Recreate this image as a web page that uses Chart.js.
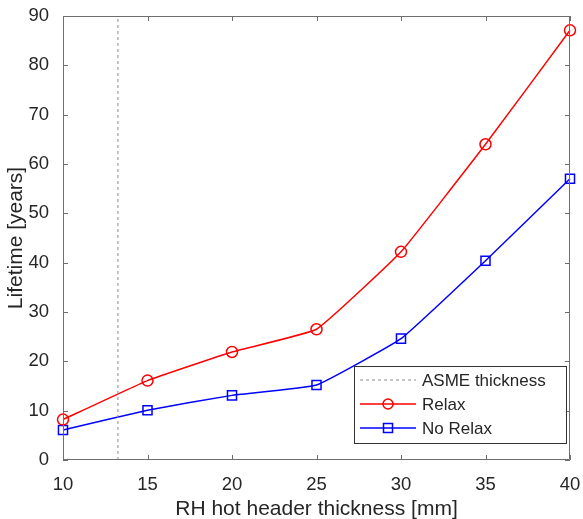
<!DOCTYPE html>
<html>
<head>
<meta charset="utf-8">
<script src="https://cdn.jsdelivr.net/npm/chart.js@4/dist/chart.umd.min.js"></script>
<style>
  html, body { margin: 0; padding: 0; background: #fff; }
  #wrap { width: 583px; height: 519px; }
</style>
</head>
<body>
<div id="wrap"><canvas id="lifeChart" width="583" height="519"></canvas></div>
<script>
// thickness [mm]
var thickness = [10, 15, 20, 25, 30, 35, 40];
var relax = [8.2, 16.1, 21.9, 26.5, 42.2, 64.0, 87.1];
var noRelax = [6.1, 10.1, 13.1, 15.2, 24.6, 40.4, 57.0];
var asmeThickness = 13.25;
var xTicks = [10, 15, 20, 25, 30, 35, 40];
var yTicks = [0, 10, 20, 30, 40, 50, 60, 70, 80, 90];

var axisColor = '#6e6e6e';
var textColor = '#262626';
var fontFam = '"Liberation Sans", Arial, Helvetica, sans-serif';

function pts(xs, ys) {
    return xs.map(function (x, i) { return {x: x, y: ys[i]}; });
}

// box + inward ticks on all four sides, like matlab
var boxPlugin = {
    id: 'box',
    afterDatasetsDraw: function (chart) {
        var ctx = chart.ctx, a = chart.chartArea;
        var xs = chart.scales.x, ys = chart.scales.y;
        ctx.save();
        ctx.strokeStyle = axisColor;
        ctx.lineWidth = 1;
        ctx.beginPath();
        ctx.rect(a.left + 0.5, a.top + 0.5, a.right - a.left - 1, a.bottom - a.top - 1);
        xTicks.forEach(function (v) {
            var px = Math.round(xs.getPixelForValue(v)) + 0.5;
            ctx.moveTo(px, a.bottom); ctx.lineTo(px, a.bottom - 5);
            ctx.moveTo(px, a.top); ctx.lineTo(px, a.top + 5);
        });
        yTicks.forEach(function (v) {
            var py = Math.round(ys.getPixelForValue(v)) + 0.5;
            ctx.moveTo(a.left, py); ctx.lineTo(a.left + 5, py);
            ctx.moveTo(a.right, py); ctx.lineTo(a.right - 5, py);
        });
        ctx.stroke();
        ctx.restore();
    }
};

// legend box inside the plot, lower right
var legendPlugin = {
    id: 'boxLegend',
    afterDraw: function (chart) {
        var ctx = chart.ctx, a = chart.chartArea;
        var w = 212, h = 77;
        var x0 = a.right - 4 - w, y0 = a.bottom - 17 - h;
        ctx.save();
        ctx.fillStyle = '#fff';
        ctx.fillRect(x0, y0, w, h);
        ctx.strokeStyle = '#333';
        ctx.lineWidth = 1;
        ctx.strokeRect(x0 + 0.5, y0 + 0.5, w, h);
        ctx.font = '17px ' + fontFam;
        ctx.textBaseline = 'middle';
        chart.data.datasets.forEach(function (ds, i) {
            var cy = y0 + 14 + i * 24;
            var lx1 = x0 + 6, lx2 = x0 + 62;
            ctx.strokeStyle = ds.borderColor;
            ctx.lineWidth = ds.borderWidth;
            ctx.setLineDash(ds.borderDash || []);
            ctx.beginPath();
            ctx.moveTo(lx1, cy); ctx.lineTo(lx2, cy);
            ctx.stroke();
            ctx.setLineDash([]);
            if (ds.pointRadius > 0) {
                ctx.lineWidth = 1.5;
                ctx.beginPath();
                var mx = (lx1 + lx2) / 2;
                if (ds.pointStyle === 'circle') {
                    ctx.arc(mx, cy, 5, 0, Math.PI * 2);
                } else {
                    ctx.rect(mx - 4.5, cy - 4.5, 9, 9);
                }
                ctx.stroke();
            }
            ctx.fillStyle = textColor;
            ctx.fillText(ds.label, x0 + 68, cy + 1);
        });
        ctx.restore();
    }
};

var ctx = document.getElementById('lifeChart').getContext('2d');
var myChart = new Chart(ctx, {
    type: 'line',
    data: {
        datasets: [{
            label: 'ASME thickness',
            data: [{x: asmeThickness, y: 0}, {x: asmeThickness, y: 90}],
            borderColor: '#8c8c8c',
            borderWidth: 1,
            borderDash: [3, 3],
            pointRadius: 0
        }, {
            label: 'Relax',
            data: pts(thickness, relax),
            borderColor: '#ff0000',
            borderWidth: 1.5,
            pointStyle: 'circle',
            pointRadius: 5.5,
            pointBorderWidth: 1.5,
            pointBorderColor: '#ff0000',
            pointBackgroundColor: 'rgba(0,0,0,0)',
            tension: 0.1,
            clip: false
        }, {
            label: 'No Relax',
            data: pts(thickness, noRelax),
            borderColor: '#0000ff',
            borderWidth: 1.5,
            pointStyle: 'rect',
            pointRadius: 6.4,
            pointBorderWidth: 1.5,
            pointBorderColor: '#0000ff',
            pointBackgroundColor: 'rgba(0,0,0,0)',
            tension: 0.1,
            clip: false
        }]
    },
    options: {
        responsive: false,
        animation: false,
        layout: { padding: { left: 0, right: 13, top: 16, bottom: 0 } },
        plugins: {
            legend: { display: false },
            tooltip: { enabled: false }
        },
        scales: {
            x: {
                type: 'linear',
                min: 10, max: 40,
                afterBuildTicks: function (s) { s.ticks = xTicks.map(function (v) { return {value: v}; }); },
                afterFit: function (s) { s.height = 59; s.paddingRight = 0; s.paddingLeft = 0; },
                grid: { display: false },
                border: { display: false },
                ticks: { color: textColor, font: { family: fontFam, size: 18.5 }, padding: 6, maxRotation: 0 },
                title: { display: true, text: 'RH hot header thickness [mm]', color: textColor, font: { family: fontFam, size: 21 }, padding: { top: 1, bottom: -3 } }
            },
            y: {
                type: 'linear',
                min: 0, max: 90,
                afterBuildTicks: function (s) { s.ticks = yTicks.map(function (v) { return {value: v}; }); },
                afterFit: function (s) { s.width = 63; s.paddingTop = 0; s.paddingBottom = 0; },
                grid: { display: false },
                border: { display: false },
                ticks: { color: textColor, font: { family: fontFam, size: 18.5 }, padding: 6 },
                title: { display: true, text: 'Lifetime [years]', color: textColor, font: { family: fontFam, size: 21 }, padding: { bottom: 0 } }
            }
        }
    },
    plugins: [boxPlugin, legendPlugin]
});
</script>
</body>
</html>
